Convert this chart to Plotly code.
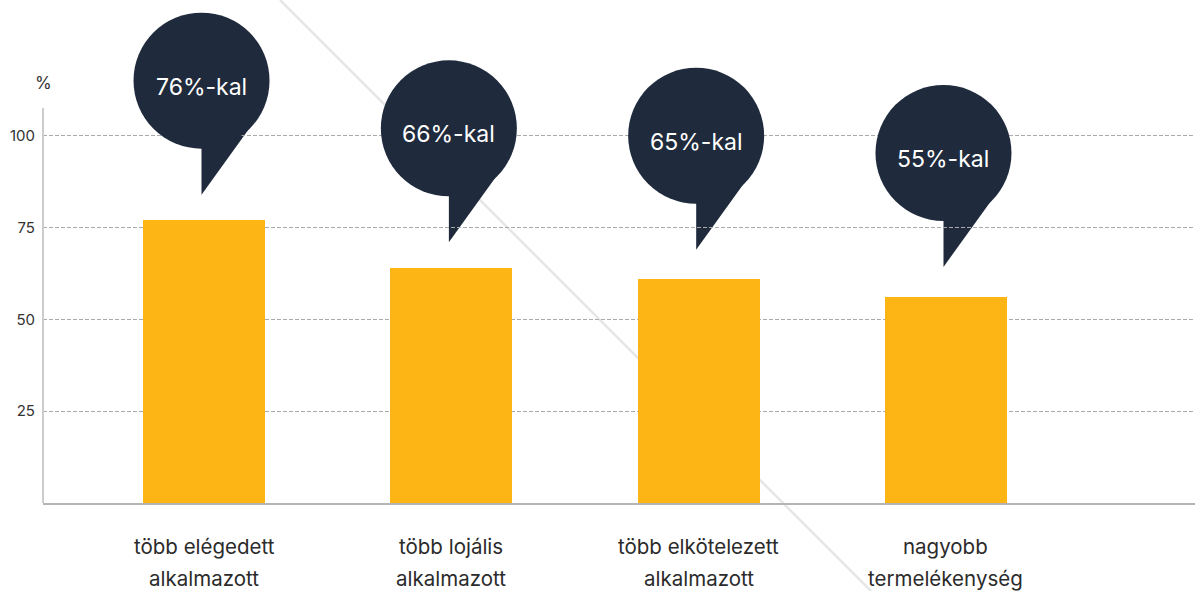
import plotly.graph_objects as go

# ---- data ----
categories = ["több elégedett<br>alkalmazott", "több lojális<br>alkalmazott",
              "több elkötelezett<br>alkalmazott", "nagyobb<br>termelékenység"]
values = [77, 64, 61, 56]
bubble_labels = ["76%-kal", "66%-kal", "65%-kal", "55%-kal"]
bubble_tip = [84, 71, 69, 64.3]          # data-unit height of each bubble tip
y_ticks = [25, 50, 75, 100]
y_unit = "%"

# ---- style ----
BAR = "#FDB515"
NAVY = "#1F2A3C"
FONT = "Inter, Open Sans, sans-serif"
R = 68          # bubble radius (px)
H = 114         # tip -> circle center (px)
W, HT = 1195, 591
M_B, AXIS_TOP_PX = 88, 108
Y_AXIS_MAX = 107.6                       # value at the top of the drawn y-axis line
px2y = Y_AXIS_MAX / (HT - AXIS_TOP_PX - M_B)
Y_MAX = Y_AXIS_MAX + AXIS_TOP_PX * px2y  # plot area extends to the top of the figure

x = list(range(len(categories)))
xb = [i - 0.01 for i in x]

fig = go.Figure()
fig.add_trace(go.Bar(x=x, y=values, width=0.493, marker=dict(color=BAR, line=dict(width=0)),
                     hoverinfo="skip", showlegend=False))
# bubble heads
fig.add_trace(go.Scatter(x=xb, y=[t + H * px2y for t in bubble_tip], mode="markers",
                         marker=dict(size=2 * R, color=NAVY, line=dict(width=0)),
                         cliponaxis=False, hoverinfo="skip", showlegend=False))

shapes = []
# decorative diagonal line
shapes.append(dict(type="line", xref="paper", yref="paper",
                   x0=(280 - 43) / (W - 43), y0=1.0 + 0 / (HT - M_B),
                   x1=(871 - 43) / (W - 43), y1=-(591 - (HT - M_B)) / (HT - M_B),
                   line=dict(color="#E6E6E6", width=2.5), layer="below"))
# y-axis line (only up to Y_AXIS_MAX)
shapes.append(dict(type="line", xref="paper", yref="y", x0=0, x1=0, y0=0, y1=Y_AXIS_MAX,
                   line=dict(color="#CCCCCC", width=2), layer="above"))

for xa, tip in zip(xb, bubble_tip):
    shapes.append(dict(type="path", xref="x", yref="y", xsizemode="pixel", ysizemode="pixel",
                       xanchor=xa, yanchor=tip,
                       path=f"M 0,0 L 0,{H - R + 6} L 54,75 Z",
                       fillcolor=NAVY, line=dict(width=0), layer="below"))

annotations = []
for xa, tip, lab in zip(xb, bubble_tip, bubble_labels):
    annotations.append(dict(x=xa, y=tip, xref="x", yref="y", yshift=H - 6, text=lab, showarrow=False,
                            font=dict(family=FONT, size=23, color="white"),
                            xanchor="center", yanchor="middle"))

for i, cat in enumerate(categories):
    lines = cat.split("<br>")
    for j, ln in enumerate(lines):
        annotations.append(dict(x=i, y=-(546 - (HT - M_B) + 32.5 * j) / (HT - M_B - 0.0), xref="x", yref="paper",
                                text=ln, showarrow=False,
                                font=dict(family=FONT, size=20.5, color="#2B2B2B"),
                                xanchor="center", yanchor="middle"))

annotations.append(dict(x=0, y=(HT - M_B - 83) / (HT - M_B), xref="paper", yref="paper", text=y_unit,
                        showarrow=False, font=dict(family=FONT, size=17, color="#333333"),
                        xanchor="center", yanchor="middle"))

fig.update_layout(
    width=W, height=HT,
    margin=dict(l=43, r=0, t=0, b=M_B),
    paper_bgcolor="white", plot_bgcolor="white",
    shapes=shapes, annotations=annotations,
    font=dict(family=FONT),
    xaxis=dict(range=[-0.651, 4.007], showticklabels=False, showgrid=False, zeroline=False,
               showline=True, linecolor="#B4B4B4", linewidth=2, ticks=""),
    yaxis=dict(range=[0, Y_MAX], tickvals=y_ticks, showgrid=True, gridcolor="#AAAAAA", gridwidth=1,
               griddash="4px,2px", zeroline=False, showline=False,
               ticks="", tickfont=dict(family=FONT, size=15, color="#333333"), ticklabelstandoff=7),
    bargap=0,
)

fig.write_html("out.html", config={"displayModeBar": False},
               post_script="document.body.style.margin='0';")
